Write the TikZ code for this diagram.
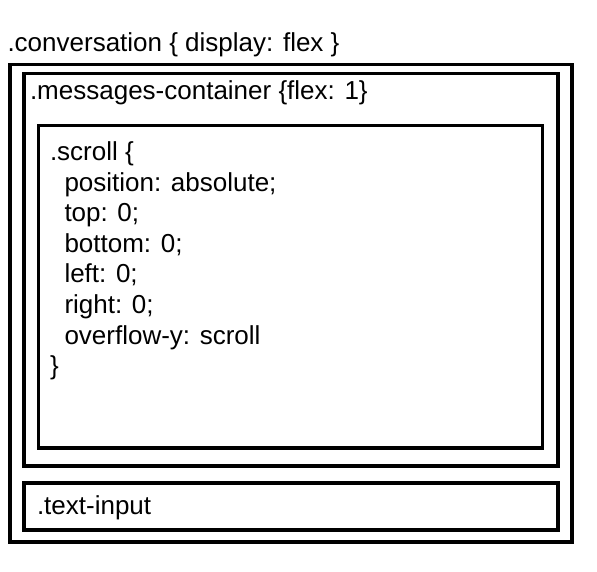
\documentclass[tikz,border=0pt]{standalone}
\usepackage{fontspec}
\setmainfont{Liberation Sans}
\begin{document}
\begin{tikzpicture}[x=1pt,y=-1pt,
  box/.style={draw=black,line width=3.5pt},
  lbl/.style={anchor=base west,inner sep=0pt,outer sep=0pt,font=\fontsize{26}{31}\selectfont}]
\useasboundingbox (0,0) rectangle (597,571);
\fill[white] (0,0) rectangle (597,571);
\draw[box] (10,64.5) rectangle (572,542);
\draw[box] (24,73.5) rectangle (558,466);
\draw[box] (38.5,125.5) rectangle (542.5,448);
\draw[box] (24,483) rectangle (558,530);
\node[lbl] (conv) at (7.5,51) {.conversation \{ display: flex \}};
\node[lbl] (msg) at (30,99) {.messages-container \{flex: 1\}};
\node[lbl] (s0) at (50,160.5) {.scroll \{};
\node[lbl] (s1) at (64.5,191) {position: absolute;};
\node[lbl] (s2) at (64.5,221.6) {top: 0;};
\node[lbl] (s3) at (64.5,252.2) {bottom: 0;};
\node[lbl] (s4) at (64.5,282.8) {left: 0;};
\node[lbl] (s5) at (64.5,313.4) {right: 0;};
\node[lbl] (s6) at (64.5,344) {overflow-y: scroll};
\node[lbl] (s7) at (50,374.6) {\}};
\node[lbl] (ti) at (37,514.3) {.text-input};
\end{tikzpicture}
\end{document}
